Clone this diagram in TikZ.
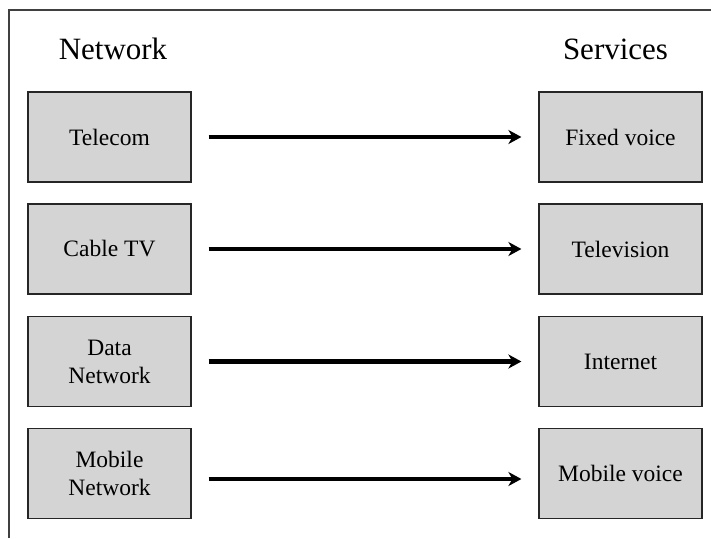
\documentclass[tikz,border=0pt]{standalone}
\usepackage{fontspec}
\setmainfont{Liberation Serif}
\usetikzlibrary{arrows.meta}
\begin{document}
\begin{tikzpicture}[x=1pt,y=-1pt,
  netbox/.style={draw=black!85,line width=1.2pt,fill=black!17,minimum width=163pt,minimum height=90pt,inner sep=0pt,align=center,font=\fontsize{23.5}{28}\selectfont},
  header/.style={font=\fontsize{31}{36}\selectfont,inner sep=0pt},
  link/.style={line width=4.2pt,-{Stealth[length=13pt,width=14pt,inset=4pt]},shorten <=17pt,shorten >=17pt}]
\useasboundingbox (0,0) rectangle (711,538);
\draw[line width=1.3pt,black!75] (9,538) -- (9,10) -- (711,10);
\node[header,anchor=base] (hn) at (113,59) {Network};
\node[header,anchor=base] (hs) at (615.5,59) {Services};
\node[netbox] (n1) at (109.5,137) {Telecom};
\node[netbox] (n2) at (109.5,249) {Cable TV};
\node[netbox] (n3) at (109.5,361.5) {Data\\Network};
\node[netbox] (n4) at (109.5,473.5) {Mobile\\Network};
\node[netbox] (s1) at (620.5,137) {Fixed voice};
\node[netbox] (s2) at (620.5,249) {Television};
\node[netbox] (s3) at (620.5,361.5) {Internet};
\node[netbox] (s4) at (620.5,473.5) {Mobile voice};
\draw[link] (n1) -- (s1);
\draw[link] (n2) -- (s2);
\draw[link] (n3) -- (s3);
\draw[link] ([yshift=-5.5pt]n4.east) -- ([yshift=-5.5pt]s4.west);
\end{tikzpicture}
\end{document}
